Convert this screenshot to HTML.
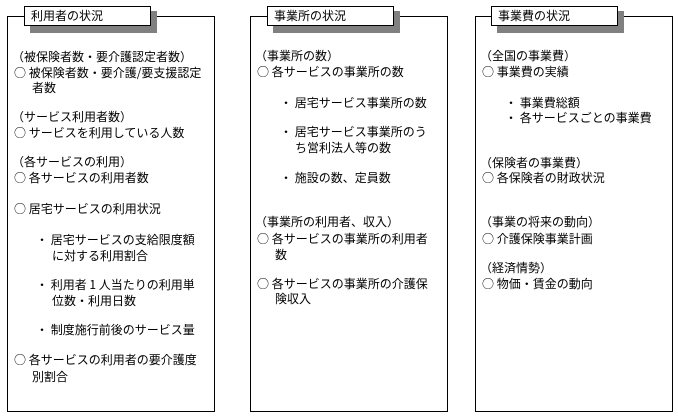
<!DOCTYPE html>
<html><head><meta charset="utf-8"><style>
body{margin:0;width:678px;height:420px;background:#fff;position:relative;overflow:hidden;font-family:"Noto Sans CJK JP","Liberation Sans",sans-serif;font-size:12px;color:#000}
.box{position:absolute;border:1px solid #000;background:#fff}
.sh{position:absolute;background:#808080}
.tt{position:absolute;border:1px solid #000;background:#fff;height:20px;line-height:18px;padding-left:6px;box-sizing:border-box}
.l{position:absolute;white-space:nowrap;line-height:14px}
</style></head><body>
<div class="box" style="left:7px;top:16px;width:206px;height:394px"></div>
<div class="box" style="left:250px;top:16px;width:196px;height:394px"></div>
<div class="box" style="left:475px;top:16px;width:196px;height:394px"></div>

<div class="sh" style="left:30px;top:11px;width:127px;height:22px"></div>
<div class="tt" style="left:24px;top:6px;width:127px">利用者の状況</div>
<div class="sh" style="left:273px;top:11px;width:127px;height:22px"></div>
<div class="tt" style="left:267px;top:6px;width:127px">事業所の状況</div>
<div class="sh" style="left:497px;top:11px;width:127px;height:22px"></div>
<div class="tt" style="left:491px;top:6px;width:127px">事業費の状況</div>

<div class="l" style="left:12px;top:50px">（被保険者数・要介護認定者数）</div>
<div class="l" style="left:14px;top:66px">○ 被保険者数・要介護/要支援認定</div>
<div class="l" style="left:32px;top:81px">者数</div>
<div class="l" style="left:12px;top:110px">（サービス利用者数）</div>
<div class="l" style="left:14px;top:126px">○ サービスを利用している人数</div>
<div class="l" style="left:12px;top:155px">（各サービスの利用）</div>
<div class="l" style="left:14px;top:171px">○ 各サービスの利用者数</div>
<div class="l" style="left:14px;top:202px">○ 居宅サービスの利用状況</div>
<div class="l" style="left:36px;top:233px">・ 居宅サービスの支給限度額</div>
<div class="l" style="left:52px;top:249px">に対する利用割合</div>
<div class="l" style="left:36px;top:278px">・ 利用者 1 人当たりの利用単</div>
<div class="l" style="left:52px;top:294px">位数・利用日数</div>
<div class="l" style="left:36px;top:323px">・ 制度施行前後のサービス量</div>
<div class="l" style="left:14px;top:353px">○ 各サービスの利用者の要介護度</div>
<div class="l" style="left:32px;top:370px">別割合</div>

<div class="l" style="left:255px;top:49px">（事業所の数）</div>
<div class="l" style="left:257px;top:65px">○ 各サービスの事業所の数</div>
<div class="l" style="left:280px;top:96px">・ 居宅サービス事業所の数</div>
<div class="l" style="left:280px;top:125px">・ 居宅サービス事業所のう</div>
<div class="l" style="left:295px;top:141px">ち営利法人等の数</div>
<div class="l" style="left:280px;top:171px">・ 施設の数、定員数</div>
<div class="l" style="left:255px;top:215px">（事業所の利用者、収入）</div>
<div class="l" style="left:257px;top:232px">○ 各サービスの事業所の利用者</div>
<div class="l" style="left:275px;top:248px">数</div>
<div class="l" style="left:257px;top:277px">○ 各サービスの事業所の介護保</div>
<div class="l" style="left:275px;top:292px">険収入</div>

<div class="l" style="left:480px;top:49px">（全国の事業費）</div>
<div class="l" style="left:482px;top:65px">○ 事業費の実績</div>
<div class="l" style="left:505px;top:96px">・ 事業費総額</div>
<div class="l" style="left:505px;top:111px">・ 各サービスごとの事業費</div>
<div class="l" style="left:480px;top:156px">（保険者の事業費）</div>
<div class="l" style="left:482px;top:171px">○ 各保険者の財政状況</div>
<div class="l" style="left:480px;top:215px">（事業の将来の動向）</div>
<div class="l" style="left:482px;top:232px">○ 介護保険事業計画</div>
<div class="l" style="left:480px;top:261px">（経済情勢）</div>
<div class="l" style="left:482px;top:277px">○ 物価・賃金の動向</div>
</body></html>
